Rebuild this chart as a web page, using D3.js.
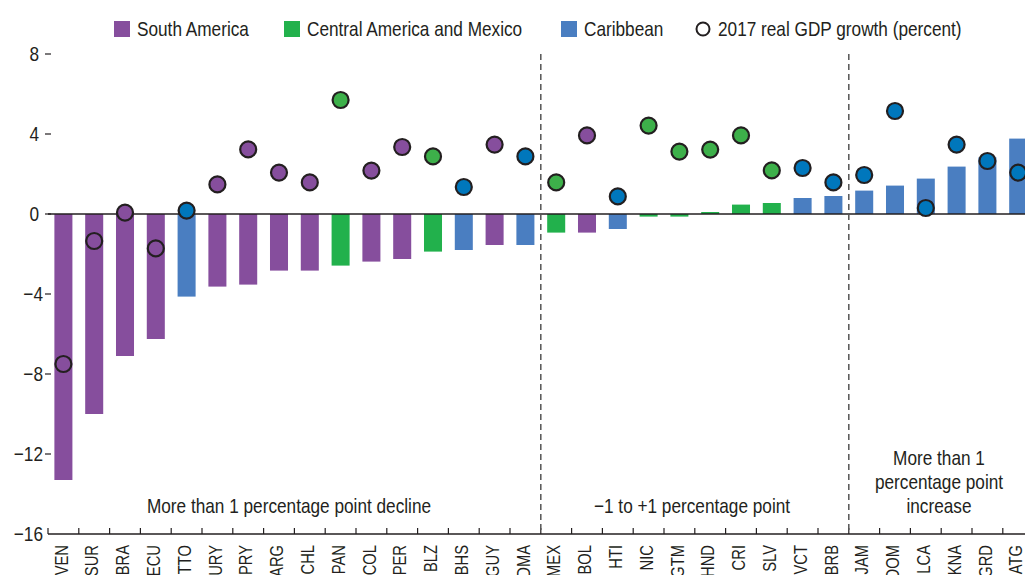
<!DOCTYPE html>
<html>
<head>
<meta charset="utf-8">
<script src="https://cdn.jsdelivr.net/npm/d3@7"></script>
<style>
  html, body { margin: 0; padding: 0; background: #fff; }
  svg { display: block; font-family: "Liberation Sans", Arial, sans-serif; }
  text { fill: #231F20; }
</style>
</head>
<body>
<svg id="chart" width="1025" height="575"></svg>
<script>
// ---- Data ----
const countries = ["VEN","SUR","BRA","ECU","TTO","URY","PRY","ARG","CHL","PAN","COL","PER","BLZ","BHS","GUY","DMA",
                   "MEX","BOL","HTI","NIC","GTM","HND","CRI","SLV","VCT","BRB",
                   "JAM","DOM","LCA","KNA","GRD","ATG"];
const regions = ["SA","SA","SA","SA","CB","SA","SA","SA","SA","CA","SA","SA","CA","CB","SA","CB",
                 "CA","SA","CB","CA","CA","CA","CA","CA","CB","CB",
                 "CB","CB","CB","CB","CB","CB"];
const growthChange = [-13.3,-10.0,-7.1,-6.25,-4.13,-3.63,-3.53,-2.83,-2.83,-2.58,-2.38,-2.25,-1.88,-1.8,-1.55,-1.55,
                      -0.93,-0.93,-0.75,-0.13,-0.13,0.1,0.47,0.55,0.8,0.9,
                      1.17,1.42,1.77,2.37,2.83,3.77];
const gdpGrowth2017 = [-7.5,-1.35,0.07,-1.72,0.17,1.48,3.23,2.07,1.58,5.7,2.17,3.35,2.88,1.35,3.47,2.88,
                       1.58,3.93,0.88,4.42,3.12,3.22,3.93,2.18,2.3,1.58,
                       1.95,5.15,0.3,3.47,2.65,2.07];
const yTicks = [8,4,0,-4,-8,-12,-16];
const legendLabels = ["South America","Central America and Mexico","Caribbean","2017 real GDP growth (percent)"];
const sectionLabels = [["More than 1 percentage point decline"],["\u22121 to +1 percentage point"],["More than 1","percentage point","increase"]];
const sectionBreaks = ["MEX","JAM"];

// ---- Styles ----
const barColor = {SA:"#864E9D", CA:"#22B14C", CB:"#4A7EC1"};
const dotColor = {SA:"#864E9D", CA:"#3DB04A", CB:"#0077BC"};
const ink = "#231F20";
const FS = 21, FS_X = 18, NARROW = 0.82;

const svg = d3.select("#chart");

// narrow text helper (condensed look)
function addText(parent, px, py, str, anchor, rot, fs) {
  const g = parent.append("g")
    .attr("transform", `translate(${px},${py})${rot ? ` rotate(${rot})` : ""} scale(${NARROW},1)`);
  return g.append("text").attr("x", 0).attr("y", 0)
    .attr("text-anchor", anchor || "start")
    .style("font-size", (fs || FS) + "px")
    .text(str);
}

const left = 48;
const step = 30.8;
const x = d3.scaleBand().domain(countries).range([left, left + step*countries.length])
            .paddingInner(0.415).paddingOuter(0.2075);
const y = d3.scaleLinear().domain([-16, 8]).range([534, 54]);

// Y tick labels and ticks
const fmt = d3.format("d");
const yg = svg.append("g");
yTicks.forEach(t => {
  addText(yg, t < 0 ? 43 : 39, y(t), fmt(t), "end").attr("dy", "0.35em");
  if (t !== -16) {
    yg.append("line").attr("x1", 45).attr("x2", 51).attr("y1", y(t)).attr("y2", y(t))
      .attr("stroke", ink).attr("stroke-width", 1.2);
  }
});

// Bars
svg.append("g").selectAll("rect").data(countries).join("rect")
  .attr("x", d => x(d))
  .attr("width", x.bandwidth())
  .attr("y", (d,i) => y(Math.max(0, growthChange[i])))
  .attr("height", (d,i) => Math.abs(y(growthChange[i]) - y(0)))
  .attr("fill", (d,i) => barColor[regions[i]]);

// Zero line
svg.append("line").attr("x1", left).attr("x2", 1025).attr("y1", y(0)).attr("y2", y(0))
  .attr("stroke", ink).attr("stroke-width", 1.5);

// Bottom axis
const xAxis = svg.append("g");
xAxis.append("line").attr("x1", left).attr("x2", 1025).attr("y1", y(-16)).attr("y2", y(-16))
  .attr("stroke", ink).attr("stroke-width", 1.5);
countries.forEach((c, i) => {
  const bx = left + i * x.step();
  xAxis.append("line").attr("x1", bx).attr("x2", bx).attr("y1", y(-16)).attr("y2", y(-16) - 6)
    .attr("stroke", ink).attr("stroke-width", 1.2);
});
countries.forEach(c => {
  addText(xAxis, x(c) + x.bandwidth()/2, y(-16) + 11, c, "end", -90, FS_X).attr("dy", "0.23em");
});

// Section dividers
sectionBreaks.forEach(c => {
  const bx = x(c) - x.step()*x.paddingInner()/2;
  svg.append("line").attr("x1", bx).attr("x2", bx).attr("y1", y(8)).attr("y2", y(-16))
    .attr("stroke", "#555").attr("stroke-width", 1.5).attr("stroke-dasharray", "6,4");
});

// Section labels
const sectionCenters = [289, 692, 939];
sectionLabels.forEach((lines, si) => {
  const n = lines.length;
  lines.forEach((ln, li) => {
    addText(svg, sectionCenters[si], 513 - (n - 1 - li) * 24, ln, "middle");
  });
});

// Dots
svg.append("g").selectAll("circle").data(countries).join("circle")
  .attr("cx", d => x(d) + x.bandwidth()/2)
  .attr("cy", (d,i) => y(gdpGrowth2017[i]))
  .attr("r", 8)
  .attr("fill", (d,i) => dotColor[regions[i]])
  .attr("stroke", ink).attr("stroke-width", 2.2);

// Legend
const lg = svg.append("g");
const swX = [114, 284, 561];
const swKeys = ["SA","CA","CB"];
swKeys.forEach((k, i) => {
  lg.append("rect").attr("x", swX[i]).attr("y", 21).attr("width", 16).attr("height", 16).attr("fill", barColor[k]);
  addText(lg, swX[i] + 23, 29, legendLabels[i], "start").attr("dy", "0.35em");
});
lg.append("circle").attr("cx", 703).attr("cy", 29).attr("r", 6.5).attr("fill", "none")
  .attr("stroke", ink).attr("stroke-width", 2);
addText(lg, 718, 29, legendLabels[3], "start").attr("dy", "0.35em");
</script>
</body>
</html>
